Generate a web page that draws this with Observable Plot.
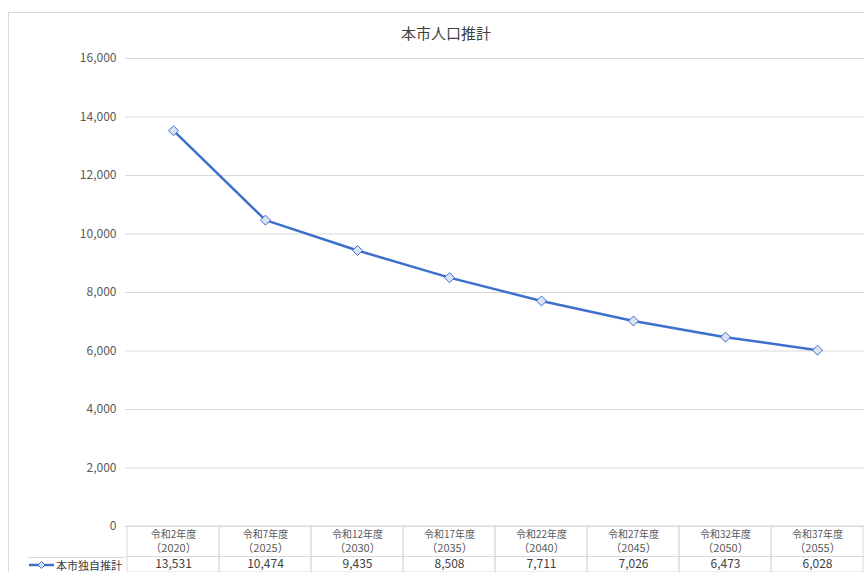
<!DOCTYPE html>
<html>
<head>
<meta charset="utf-8">
<script src="https://cdn.jsdelivr.net/npm/d3@7"></script>
<script src="https://cdn.jsdelivr.net/npm/@observablehq/plot@0.6"></script>
<style>
  body { margin: 0; background: #fff; font-family: "Noto Sans CJK JP", "Noto Sans", sans-serif; }
  #wrap { position: relative; width: 864px; height: 572px; overflow: hidden; }
  #border { position: absolute; left: 8px; top: 12px; width: 900px; height: 600px; border-left: 1px solid #d9d9d9; border-top: 1px solid #d9d9d9; }
  #title { position: absolute; left: 346px; width: 200px; top: 22px; text-align: center; font-size: 15px; color: #404040; }
  #chart { position: absolute; left: 0; top: 0; }
  #legend { position: absolute; left: 28px; top: 557px; width: 97px; height: 14px; border-top: 1px solid #d9d9d9; font-size: 11px; line-height: 13px; color: #404040; display: flex; align-items: center; white-space: nowrap; overflow: visible; }
  #legend span { margin-left: 1px; }
</style>
</head>
<body>
<div id="wrap">
  <div id="border"></div>
  <div id="chart"></div>
  <div id="title">本市人口推計</div>
  <div id="legend"><svg width="27" height="10"><line x1="1" y1="5" x2="26" y2="5" stroke="#3d6fcc" stroke-width="2.5"/><path d="M13.5,1.5L17,5L13.5,8.5L10,5Z" fill="#dae3f3" stroke="#3d6fcc" stroke-width="1"/></svg><span>本市独自推計</span></div>
</div>
<script>
const eras = ["令和2年度","令和7年度","令和12年度","令和17年度","令和22年度","令和27年度","令和32年度","令和37年度"];
const years = [2020, 2025, 2030, 2035, 2040, 2045, 2050, 2055];
const population = [13531, 10474, 9435, 8508, 7711, 7026, 6473, 6028];
const yTicks = [0, 2000, 4000, 6000, 8000, 10000, 12000, 14000, 16000];

const data = eras.map((e, i) => ({era: e, year: years[i], value: population[i]}));
const fmt = d3.format(",");
const blue = "#3d6fcc";
const textGray = "#595959";

const chart = Plot.plot({
  width: 864,
  height: 572,
  marginLeft: 125,
  marginRight: 0,
  marginTop: 58,
  marginBottom: 46,
  style: {fontFamily: "'Noto Sans CJK JP', 'Noto Sans', sans-serif", color: textGray, background: "transparent"},
  x: {type: "band", domain: eras, padding: 0, axis: null},
  y: {domain: [0, 16000], ticks: yTicks, label: null},
  marks: [
    Plot.gridY(yTicks, {stroke: "#d9d9d9", strokeOpacity: 1, strokeWidth: 1}),
    Plot.axisY(yTicks, {tickSize: 0, tickPadding: 9, tickFormat: fmt, fontSize: 12, fill: textGray, label: null}),
    Plot.barY(data, {x: "era", y1: 0, y2: 0, insetBottom: -46, insetTop: 0, fill: "none", stroke: "#d9d9d9", strokeWidth: 1}),
    Plot.ruleY([0], {stroke: "#d9d9d9", dy: 30}),
    Plot.text(data, {x: "era", frameAnchor: "bottom", dy: 8, lineAnchor: "middle", fontSize: 10, fill: textGray, text: "era"}),
    Plot.text(data, {x: "era", frameAnchor: "bottom", dy: 22, lineAnchor: "middle", fontSize: 11, fill: textGray, text: d => "（" + d.year + "）"}),
    Plot.text(data, {x: "era", frameAnchor: "bottom", dy: 37.5, lineAnchor: "middle", fontSize: 12, fill: "#404040", text: d => fmt(d.value)}),
    Plot.line(data, {x: "era", y: "value", stroke: blue, strokeWidth: 2.5}),
    Plot.dot(data, {x: "era", y: "value", symbol: "diamond2", r: 4.5, fill: "#dae3f3", stroke: blue, strokeWidth: 1})
  ]
});
document.getElementById("chart").appendChild(chart);
</script>
</body>
</html>
